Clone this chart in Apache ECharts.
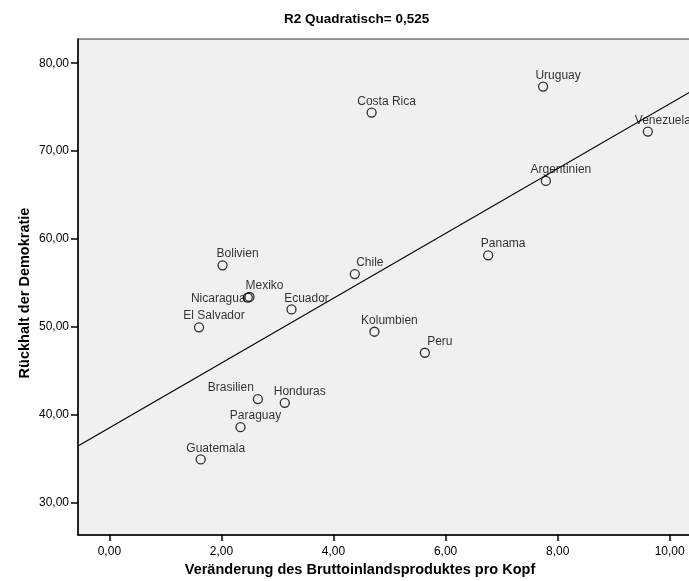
<!DOCTYPE html>
<html>
<head>
<meta charset="utf-8">
<script src="https://cdn.jsdelivr.net/npm/echarts@6/dist/echarts.min.js"></script>
<style>
  html, body { margin: 0; padding: 0; background: #fff; }
  #chart { width: 689px; height: 581px; }
</style>
</head>
<body>
<div id="chart"></div>
<script>
// Länder mit Wachstum (x) und Rückhalt der Demokratie (y)
var countries = ['Uruguay', 'Costa Rica', 'Venezuela', 'Argentinien', 'Panama', 'Chile', 'Bolivien',
  'Mexiko', 'Nicaragua', 'Ecuador', 'El Salvador', 'Kolumbien', 'Peru', 'Brasilien', 'Honduras',
  'Paraguay', 'Guatemala'];
var gdpGrowth = [7.74, 4.68, 9.61, 7.79, 6.76, 4.38, 2.02, 2.50, 2.47, 3.25, 1.60, 4.73, 5.63, 2.65, 3.13, 2.34, 1.63];
var support = [77.34, 74.38, 72.22, 66.61, 58.16, 56.03, 57.02, 53.42, 53.35, 52.01, 49.97, 49.47, 47.08, 41.81, 41.39, 38.62, 34.95];
var xTicks = [0, 2, 4, 6, 8, 10];
var yTicks = [30, 40, 50, 60, 70, 80];

var xMin = -0.56, xMax = 10.38;
var yMin = 26.36, yMax = 82.75;

var FONT = "'Liberation Sans', Arial, sans-serif";

// lineare Anpassung (kleinste Quadrate)
var n = gdpGrowth.length, mx = 0, my = 0;
for (var i = 0; i < n; i++) { mx += gdpGrowth[i]; my += support[i]; }
mx /= n; my /= n;
var sxy = 0, sxx = 0;
for (var i = 0; i < n; i++) {
  sxy += (gdpGrowth[i] - mx) * (support[i] - my);
  sxx += (gdpGrowth[i] - mx) * (gdpGrowth[i] - mx);
}
var slope = sxy / sxx;
var intercept = my - slope * mx;

// Beschriftungen, die anders sitzen
var labelTweaks = {
  'Nicaragua': { position: 'left', distance: -3, offset: [0, 1] },
  'Brasilien': { offset: [-27, 0] }
};

var points = countries.map(function (c, i) {
  var item = { name: c, value: [gdpGrowth[i], support[i]] };
  if (labelTweaks[c]) item.label = labelTweaks[c];
  return item;
});

function fmt(v) { return v.toFixed(2).replace('.', ','); }

var option = {
  backgroundColor: '#fff',
  animation: false,
  title: {
    text: 'R2 Quadratisch= 0,525',
    left: 279,
    top: 7,
    textStyle: { fontFamily: FONT, fontSize: 13.5, fontWeight: 'bold', color: '#000' }
  },
  grid: {
    left: 78, right: -2, top: 39, bottom: 46,
    outerBoundsMode: 'none', containLabel: false,
    show: true, backgroundColor: '#f0f0f0', borderColor: '#333', borderWidth: 1
  },
  xAxis: {
    type: 'value', min: xMin, max: xMax,
    name: 'Veränderung des Bruttoinlandsproduktes pro Kopf',
    nameLocation: 'middle', nameGap: 27,
    nameTextStyle: { fontFamily: FONT, fontSize: 14.5, fontWeight: 'bold', color: '#000', padding: [0, 49, 0, 0] },
    axisLine: { show: true, onZero: false, lineStyle: { color: '#000', width: 1.5 } },
    axisTick: { show: true, length: 6, customValues: xTicks, lineStyle: { color: '#000', width: 1.5 } },
    axisLabel: { customValues: xTicks, margin: 11, formatter: fmt, fontFamily: FONT, fontSize: 12, color: '#000' },
    splitLine: { show: false }
  },
  yAxis: {
    type: 'value', min: yMin, max: yMax,
    name: 'Rückhalt der Demokratie',
    nameLocation: 'middle', nameGap: 46, nameRotate: 90, nameMoveOverlap: false,
    nameTextStyle: { fontFamily: FONT, fontSize: 14.5, fontWeight: 'bold', color: '#000', padding: [0, 12, 0, 0] },
    axisLine: { show: true, onZero: false, lineStyle: { color: '#000', width: 1.5 } },
    axisTick: { show: true, length: 7, customValues: yTicks, lineStyle: { color: '#000', width: 1.5 } },
    axisLabel: { customValues: yTicks, margin: 9, formatter: fmt, fontFamily: FONT, fontSize: 12, color: '#000' },
    splitLine: { show: false }
  },
  series: [
    {
      type: 'line',
      data: [[xMin, intercept + slope * xMin], [xMax, intercept + slope * xMax]],
      symbol: 'none',
      lineStyle: { color: '#000', width: 1.2 },
      z: 3
    },
    {
      type: 'scatter',
      data: points,
      symbol: 'circle',
      symbolSize: 9,
      itemStyle: { color: 'rgba(0,0,0,0)', borderColor: '#000', borderWidth: 1.3 },
      label: {
        show: true, position: 'top', distance: 0, offset: [15, 0],
        formatter: '{b}', fontFamily: FONT, fontSize: 12, color: '#000'
      },
      z: 2
    }
  ]
};

var chart = echarts.init(document.getElementById('chart'), null, { renderer: 'canvas' });
chart.setOption(option);
</script>
</body>
</html>
